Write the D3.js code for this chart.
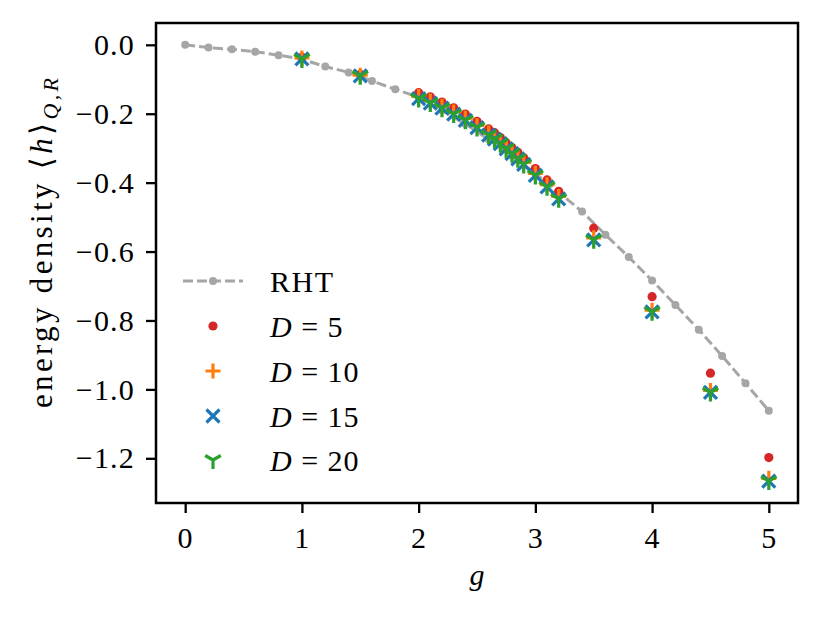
<!DOCTYPE html>
<html>
<head>
<meta charset="utf-8">
<script src="https://cdn.jsdelivr.net/npm/d3@7"></script>
<style>
  body { margin: 0; background: #fff; }
  text { font-family: "Liberation Serif", "DejaVu Serif", serif; }
</style>
</head>
<body>
<div id="chart"></div>
<script>
// reference curve, g = 0 .. 5 in steps of 0.2
var rhtG = [0, 0.2, 0.4, 0.6, 0.8, 1.0, 1.2, 1.4, 1.6, 1.8, 2.0, 2.2, 2.4, 2.6,
            2.8, 3.0, 3.2, 3.4, 3.6, 3.8, 4.0, 4.2, 4.4, 4.6, 4.8, 5.0];
var rhtE = [0, -0.008, -0.013, -0.020, -0.030, -0.042, -0.063, -0.080, -0.105, -0.129,
            -0.152, -0.190, -0.230, -0.274, -0.322, -0.373, -0.428, -0.484, -0.551,
            -0.616, -0.684, -0.755, -0.827, -0.903, -0.982, -1.062];

// g values of the simulations
var simG = [1.0, 1.5, 2.0, 2.1, 2.2, 2.3, 2.4, 2.5, 2.6, 2.65, 2.7, 2.75, 2.8,
            2.85, 2.9, 3.0, 3.1, 3.2, 3.5, 4.0, 4.5, 5.0];
var eD5  = [-0.036, -0.086, -0.139, -0.151, -0.166, -0.183, -0.201, -0.222, -0.244,
            -0.255, -0.269, -0.284, -0.298, -0.312, -0.328, -0.359, -0.392, -0.425,
            -0.532, -0.731, -0.953, -1.198];
var eD10 = [-0.038, -0.088, -0.150, -0.163, -0.178, -0.195, -0.213, -0.234, -0.256,
            -0.268, -0.281, -0.296, -0.310, -0.325, -0.341, -0.373, -0.406, -0.440,
            -0.560, -0.770, -1.003, -1.258];
var eD15 = [-0.041, -0.090, -0.156, -0.169, -0.184, -0.201, -0.219, -0.240, -0.262,
            -0.274, -0.287, -0.302, -0.316, -0.331, -0.347, -0.379, -0.412, -0.447,
            -0.566, -0.775, -1.009, -1.266];
var eD20 = [-0.041, -0.090, -0.156, -0.169, -0.184, -0.201, -0.219, -0.240, -0.262,
            -0.274, -0.287, -0.302, -0.316, -0.331, -0.347, -0.379, -0.412, -0.447,
            -0.566, -0.775, -1.009, -1.266];

var seriesDs = ["5", "10", "15", "20"];
var xTicks = [0, 1, 2, 3, 4, 5];
var yTicks = [0.0, -0.2, -0.4, -0.6, -0.8, -1.0, -1.2];

var W = 823, H = 619;
var box = {left: 156, right: 798, top: 23, bottom: 503};

var svg = d3.select("#chart").append("svg")
    .attr("width", W).attr("height", H);

var x = d3.scaleLinear().domain([-0.25, 5.25]).range([box.left, box.right]);
var y = d3.scaleLinear().domain([-1.3297, 0.0633]).range([box.bottom, box.top]);

var fs = 30;

// axes
var xAxis = svg.append("g")
    .attr("transform", "translate(0," + box.bottom + ")")
    .call(d3.axisBottom(x).tickValues(xTicks).tickFormat(d3.format("d"))
        .tickSize(10).tickSizeOuter(0).tickPadding(14));
var yAxis = svg.append("g")
    .attr("transform", "translate(" + box.left + ",0)")
    .call(d3.axisLeft(y).tickValues(yTicks).tickFormat(d3.format(".1f"))
        .tickSize(10).tickSizeOuter(0).tickPadding(11));
[xAxis, yAxis].forEach(function (a) {
    a.select(".domain").remove();
    a.selectAll(".tick line").attr("stroke", "#000").attr("stroke-width", 2.3);
    a.selectAll(".tick text").attr("font-size", fs).attr("letter-spacing", 1.2)
        .attr("font-family", "'Liberation Serif', serif").attr("fill", "#000");
});

var plot = svg.append("g");

// RHT curve
var rht = rhtG.map(function (g, i) { return {g: g, e: rhtE[i]}; });
var grey = "#a6a6a6";
var dash = "10,4";
plot.append("path")
    .datum(rht)
    .attr("fill", "none")
    .attr("stroke", grey)
    .attr("stroke-width", 3)
    .attr("stroke-dasharray", dash)
    .attr("d", d3.line().x(function (d) { return x(d.g); }).y(function (d) { return y(d.e); }));
plot.selectAll(".rht").data(rht).enter().append("circle")
    .attr("cx", function (d) { return x(d.g); })
    .attr("cy", function (d) { return y(d.e); })
    .attr("r", 4).attr("fill", grey);

// marker shapes
function drawMarker(g, kind, color) {
    if (kind === "dot") {
        g.append("circle").attr("r", 4.6).attr("fill", color);
    } else if (kind === "plus") {
        g.append("path").attr("d", "M-7.5,0H7.5M0,-7.5V7.5")
            .attr("stroke", color).attr("stroke-width", 3.2).attr("fill", "none");
    } else if (kind === "x") {
        g.append("path").attr("d", "M-6.5,-6.5L6.5,6.5M-6.5,6.5L6.5,-6.5")
            .attr("stroke", color).attr("stroke-width", 3.2).attr("fill", "none");
    } else if (kind === "tri") {
        var r = 9;
        g.append("path")
            .attr("d", "M0,0V" + r + "M0,0L" + (-0.866 * r) + "," + (-0.5 * r) +
                  "M0,0L" + (0.866 * r) + "," + (-0.5 * r))
            .attr("stroke", color).attr("stroke-width", 3.2).attr("fill", "none");
    }
}

var series = [
    {vals: eD5,  kind: "dot",  color: "#d62728"},
    {vals: eD10, kind: "plus", color: "#ff7f0e"},
    {vals: eD15, kind: "x",    color: "#1f77b4"},
    {vals: eD20, kind: "tri",  color: "#2ca02c"}
];

series.forEach(function (s) {
    var pts = simG.map(function (g, i) { return {g: g, e: s.vals[i]}; });
    plot.append("g").selectAll("g").data(pts).enter().append("g")
        .attr("transform", function (d) { return "translate(" + x(d.g) + "," + y(d.e) + ")"; })
        .each(function () { drawMarker(d3.select(this), s.kind, s.color); });
});

// frame
svg.append("rect")
    .attr("x", box.left).attr("y", box.top)
    .attr("width", box.right - box.left).attr("height", box.bottom - box.top)
    .attr("fill", "none").attr("stroke", "#000").attr("stroke-width", 2.5);

// legend
var leg = svg.append("g");
var rowY = [281, 326, 371, 416, 460];
var hx = 213;
var l0 = leg.append("g").attr("transform", "translate(" + hx + "," + rowY[0] + ")");
l0.append("line").attr("x1", -30).attr("x2", 30)
    .attr("stroke", grey).attr("stroke-width", 3).attr("stroke-dasharray", dash);
l0.append("circle").attr("r", 4).attr("fill", grey);
leg.append("text").attr("x", 270).attr("y", rowY[0] + 11).attr("font-size", fs)
    .attr("letter-spacing", 1.5).text("RHT");

series.forEach(function (s, i) {
    var g = leg.append("g").attr("transform", "translate(" + hx + "," + rowY[i + 1] + ")");
    drawMarker(g, s.kind, s.color);
    var t = leg.append("text").attr("x", 270).attr("y", rowY[i + 1] + 11)
        .attr("font-size", fs).attr("letter-spacing", 1);
    t.append("tspan").attr("font-style", "italic").text("D");
    t.append("tspan").text(" = " + seriesDs[i]);
});

// axis labels
svg.append("text")
    .attr("x", 477).attr("y", 585)
    .attr("text-anchor", "middle").attr("font-size", fs)
    .attr("font-style", "italic").text("g");

var yl = svg.append("text")
    .attr("transform", "translate(52,408) rotate(-90)")
    .attr("text-anchor", "start").attr("font-size", 31)
    .attr("textLength", 330).attr("lengthAdjust", "spacing");
yl.append("tspan").text("energy density \u27E8");
yl.append("tspan").attr("font-style", "italic").text("h");
yl.append("tspan").text("\u27E9");
yl.append("tspan").attr("font-style", "italic").attr("font-size", 22)
    .attr("dy", 6).text("Q,R");
</script>
</body>
</html>
